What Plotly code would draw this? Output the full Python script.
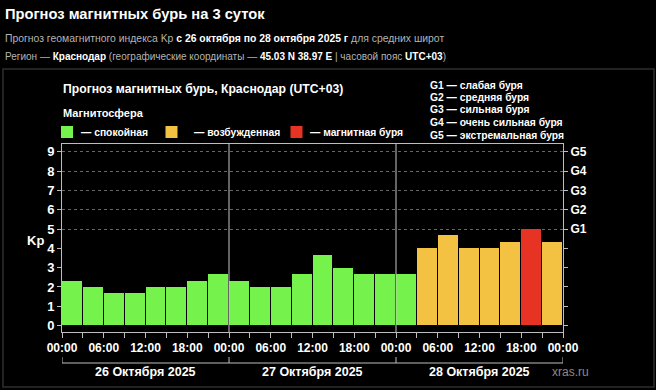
import plotly.graph_objects as go

# ---------------- data ----------------
day_labels = ["26 Октября 2025", "27 Октября 2025", "28 Октября 2025"]
hour_labels = ["00:00", "06:00", "12:00", "18:00"]
kp_values = [2.33, 2.0, 1.67, 1.67, 2.0, 2.0, 2.33, 2.67,
             2.33, 2.0, 2.0, 2.67, 3.67, 3.0, 2.67, 2.67,
             2.67, 4.0, 4.67, 4.0, 4.0, 4.33, 5.0, 4.33]
g_labels = ["G1", "G2", "G3", "G4", "G5"]
g_levels = [5, 6, 7, 8, 9]
g_descriptions = ["слабая буря", "средняя буря", "сильная буря",
                  "очень сильная буря", "экстремальная буря"]
state_labels = ["— спокойная", "— возбужденная", "— магнитная буря"]
state_colors = ["#76f24d", "#f4c243", "#e63323"]

# ---------------- geometry ----------------
W, H = 656, 390
L, R, T, B = 62, 563, 144, 332
FONT = "Liberation Sans, Arial, sans-serif"


def px(x):
    return (x - L) / (R - L)


def py(y):
    return (B - y) / (B - T)


slot = 3
x_centers = [slot * i + slot / 2 for i in range(len(kp_values))]
colors = [state_colors[0] if v < 4 else (state_colors[1] if v < 5 else state_colors[2])
          for v in kp_values]
total_hours = slot * len(kp_values)
tickvals = list(range(0, total_hours + 1, slot))
ticktext = [(hour_labels[(t % 24) // 6] if t % 6 == 0 else "") for t in tickvals]

fig = go.Figure()
fig.add_trace(go.Bar(
    x=x_centers, y=kp_values, width=slot,
    marker=dict(color=colors, line=dict(color="#000000", width=1)),
    hoverinfo="skip", showlegend=False,
))
fig.add_trace(go.Scatter(x=[None], y=[None], yaxis="y2", showlegend=False, hoverinfo="skip"))

axis_col = "#bdbdbd"
fig.update_layout(
    width=W, height=H,
    margin=dict(l=L, r=W - R, t=T, b=H - B, pad=0),
    paper_bgcolor="#000000", plot_bgcolor="#000000",
    font=dict(family=FONT, color="#ffffff"),
    bargap=0,
    xaxis=dict(
        range=[0, total_hours], tickmode="array", tickvals=tickvals, ticktext=ticktext,
        ticks="outside", ticklen=5, tickcolor=axis_col, tickwidth=1,
        tickfont=dict(size=12, color="#ffffff", weight="bold"),
        showgrid=False, zeroline=False,
        showline=True, linecolor=axis_col, linewidth=1, mirror=True,
    ),
    yaxis=dict(
        range=[-0.33, 9.4], tickmode="array", tickvals=list(range(10)),
        ticks="outside", ticklen=4, tickcolor=axis_col,
        tickfont=dict(size=13, color="#ffffff", weight="bold"),
        showgrid=False, zeroline=False,
        showline=True, linecolor=axis_col, linewidth=1, mirror=True,
    ),
    yaxis2=dict(
        range=[-0.33, 9.4], overlaying="y", side="right",
        tickmode="array", tickvals=g_levels, ticktext=g_labels,
        ticks="outside", ticklen=4, tickcolor=axis_col,
        tickfont=dict(size=12, color="#ffffff", weight="bold"),
        showgrid=True, gridcolor="#666666", griddash="dot", gridwidth=1,
        zeroline=False, showline=False,
        minor=dict(tickmode="array", tickvals=[0, 1, 2, 3, 4], ticks="outside",
                   ticklen=4, tickcolor=axis_col, showgrid=False),
    ),
)

shapes = []
# outer frame / separator
shapes.append(dict(type="rect", xref="paper", yref="paper",
                   x0=px(3), x1=px(654), y0=py(69), y1=py(387),
                   line=dict(color="#2e2e2e", width=1.5), layer="below"))
# day separators
for d in range(1, len(day_labels)):
    shapes.append(dict(type="line", xref="x", yref="paper", x0=24 * d, x1=24 * d,
                       y0=0, y1=1, line=dict(color="#c8c8c8", width=1), layer="above"))
# bracket under the x axis
shapes.append(dict(type="line", xref="x", yref="paper", x0=0, x1=total_hours,
                   y0=py(363), y1=py(363), line=dict(color=axis_col, width=1)))
for d in range(len(day_labels) + 1):
    shapes.append(dict(type="line", xref="x", yref="paper", x0=24 * d, x1=24 * d,
                       y0=py(363), y1=py(357), line=dict(color=axis_col, width=1)))
# legend squares
sq_x = [61, 165.5, 290.5]
for c, x0 in zip(state_colors, sq_x):
    shapes.append(dict(type="rect", xref="paper", yref="paper",
                       x0=px(x0), x1=px(x0 + 12), y0=py(138), y1=py(126),
                       fillcolor=c, line=dict(width=0)))
fig.update_layout(shapes=shapes)

ann = []


def text(x, y, s, size, color="#ffffff", bold=False, xanchor="left"):
    ann.append(dict(xref="paper", yref="paper", x=px(x), y=py(y), text=s,
                    showarrow=False, xanchor=xanchor, yanchor="middle",
                    font=dict(family=FONT, size=size, color=color,
                              weight="bold" if bold else "normal")))


text(3, 14, "Прогноз магнитных бурь на 3 суток", 14.7, bold=True)
text(3, 38, "Прогноз геомагнитного индекса Kp <span style='color:#ffffff'><b>с 26 октября по 28 октября 2025 г</b></span> для средних широт",
     10.4, color="#b4b4b4")
text(3, 56, "Регион — <span style='color:#ffffff'><b>Краснодар</b></span> (географические координаты — <span style='color:#ffffff'><b>45.03 N 38.97 E</b></span> | часовой пояс <span style='color:#ffffff'><b>UTC+03</b></span>)",
     10, color="#b4b4b4")
text(61, 89, "Прогноз магнитных бурь, Краснодар (UTC+03)", 12.2, bold=True)
text(61, 113, "Магнитосфера", 11, bold=True)
txt_x = [79, 192, 308]
for s, x0 in zip(state_labels, txt_x):
    text(x0, 132, s, 10.3, bold=True)
for i, (g, dsc) in enumerate(zip(g_labels, g_descriptions)):
    text(428, 85 + i * 12.5, f"{g} — {dsc}", 10.3, bold=True)
text(35, 240, "Kp", 13, bold=True, xanchor="center")
for d, lab in enumerate(day_labels):
    ann.append(dict(xref="x", yref="paper", x=24 * d + 12, y=py(372), text=lab,
                    showarrow=False, xanchor="center", yanchor="middle",
                    font=dict(family=FONT, size=12.5, color="#ffffff", weight="bold")))
text(570, 372, "xras.ru", 12, color="#8a8a8a", xanchor="center")
fig.update_layout(annotations=ann)

fig.write_html("out.html", config={"displayModeBar": False},
               post_script="document.body.style.margin='0';document.body.style.overflow='hidden';")
